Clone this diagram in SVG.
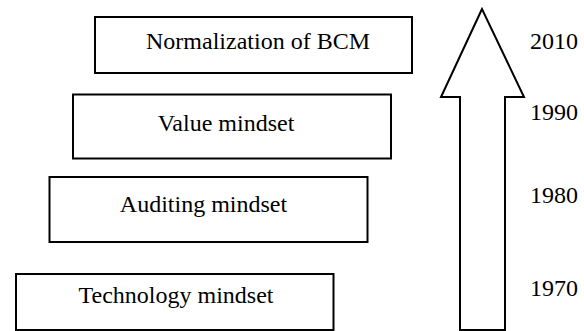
<svg xmlns="http://www.w3.org/2000/svg" width="584" height="331" viewBox="0 0 584 331">
<style>
.box{fill:#fff;stroke:#000;stroke-width:2}
.t{font-family:"Liberation Serif","Times New Roman",serif;font-size:24px;fill:#000}
</style>
<rect width="584" height="331" fill="#fff"/>
<g id="node-normalization"><rect class="box" x="95" y="17" width="317" height="56"/><text class="t" x="258" y="49" text-anchor="middle">Normalization of BCM</text></g>
<g id="node-value"><rect class="box" x="73" y="94.5" width="318" height="64"/><text class="t" x="226" y="131" text-anchor="middle">Value mindset</text></g>
<g id="node-auditing"><rect class="box" x="49.5" y="177" width="318" height="65"/><text class="t" x="203.5" y="212" text-anchor="middle">Auditing mindset</text></g>
<g id="node-technology"><rect class="box" x="16" y="274" width="317.5" height="56"/><text class="t" x="176" y="303" text-anchor="middle">Technology mindset</text></g>
<g id="connectors"><polygon points="482,9 441,97 460,97 460,330 505,330 505,97 524,97" fill="#fff" stroke="#000" stroke-width="2" stroke-linejoin="miter"/></g>
<g id="years">
<text class="t" x="530" y="49">2010</text>
<text class="t" x="530" y="120">1990</text>
<text class="t" x="530" y="203">1980</text>
<text class="t" x="530" y="296">1970</text>
</g>
</svg>
